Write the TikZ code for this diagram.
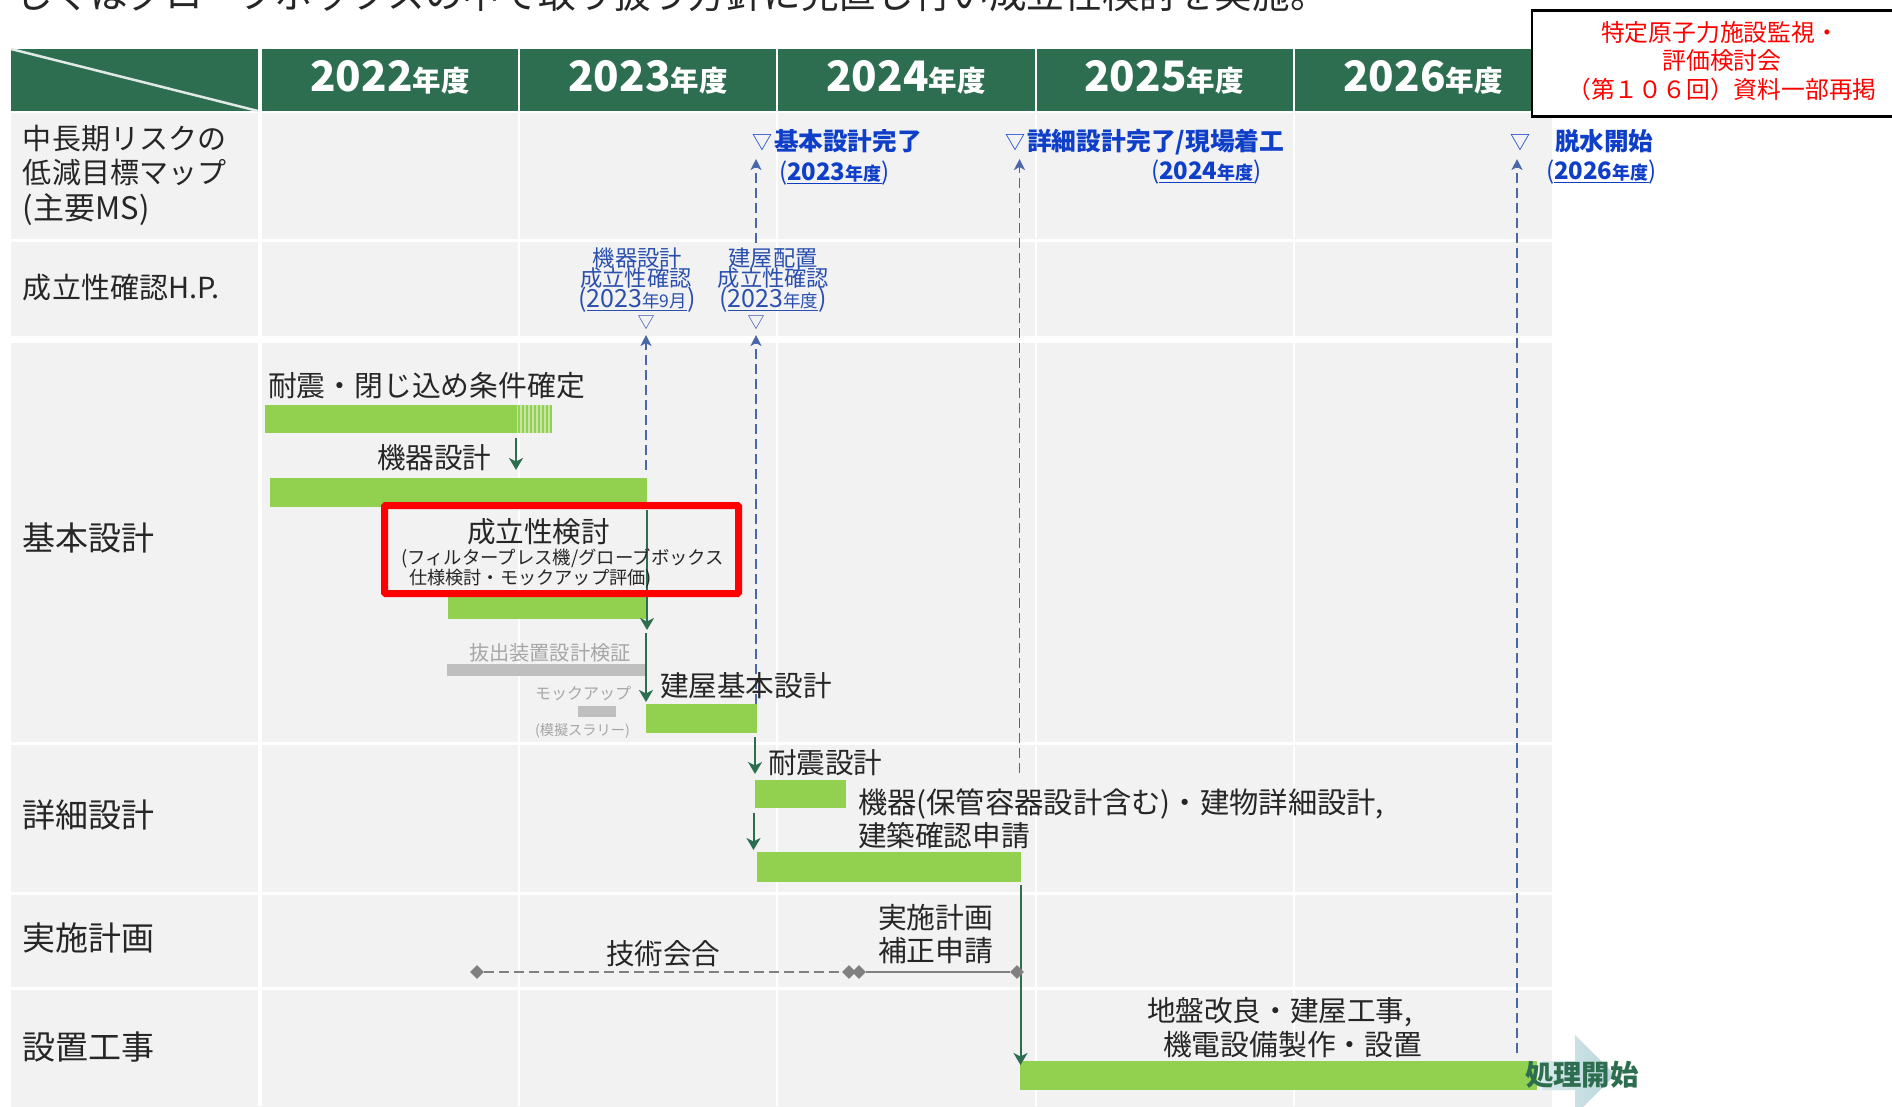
\documentclass[tikz,border=0pt]{standalone}
\usepackage{fontspec}
\setmainfont{Noto Sans CJK JP}
\usetikzlibrary{arrows.meta,shapes.geometric}
\definecolor{hdr}{HTML}{2E6E50}
\definecolor{cellbg}{HTML}{F2F2F2}
\definecolor{barg}{HTML}{92D050}
\definecolor{ink}{HTML}{262626}
\definecolor{msblue}{HTML}{0F3FC8}
\definecolor{hpblue}{HTML}{2A4FAE}
\definecolor{dashblue}{HTML}{4A68A8}
\definecolor{soft}{HTML}{A6A6A6}
\definecolor{barsoft}{HTML}{BFBFBF}
\definecolor{meet}{HTML}{808080}
\definecolor{paleL}{HTML}{D8E9EA}
\definecolor{paleR}{HTML}{B9D6DC}
\tikzset{
  arrowgreen/.style={draw=hdr,line width=2pt,-{Stealth[length=12pt,width=14pt,inset=3.5pt]}},
  dashup/.style={draw=dashblue,line width=1.8pt,dash pattern=on 10pt off 5pt,-{Stealth[length=11pt,width=11pt,inset=3pt]}},
  meetdia/.style={fill=meet,draw=none,inner sep=0pt,minimum size=14pt,shape=diamond},
}
% a rectangle node given by its corners
\newcommand\barN[6]{\pgfmathsetmacro\bcx{(#2+#4)/2}\pgfmathsetmacro\bcy{(#3+#5)/2}%
  \pgfmathsetmacro\bw{#4-#2}\pgfmathsetmacro\bh{#5-#3}%
  \node[fill=#6,draw=none,inner sep=0pt,outer sep=0pt,minimum width=\bw pt,minimum height=\bh pt] (#1) at (\bcx,\bcy) {};}
% one line of text: name, anchor, x, y of the glyph middle, size, colour, text
\newcommand\lbl[7]{\pgfmathsetmacro\by{#4+0.39*#5}%
  \node[anchor=#2,inner sep=0pt,outer sep=0pt,text=#6,font=\fontsize{#5}{#5}\selectfont] (#1) at (#3,\by) {#7};}
\newcommand\sz[1]{\fontsize{#1}{#1}\selectfont}
\begin{document}
\begin{tikzpicture}[x=1pt,y=-1pt]
\useasboundingbox (0,0) rectangle (1892,1106);
\clip (0,0) rectangle (1892,1106);
\fill[white] (0,0) rectangle (1892,1106);
% cut-off sentence at the top
\lbl{topline}{base west}{15}{-6}{37.6}{ink}{しくはグローブボックスの中で取り扱う方針に見直し行い成立性検討を実施。}
% header
\barN{hcorner}{11}{49}{258}{111}{hdr}
\barN{h22cell}{262}{49}{518}{111}{hdr}
\barN{h23cell}{520}{49}{776}{111}{hdr}
\barN{h24cell}{778}{49}{1035}{111}{hdr}
\barN{h25cell}{1037}{49}{1293}{111}{hdr}
\barN{h26cell}{1295}{49}{1540}{111}{hdr}
\draw[draw=white!85!hdr,line width=2.5pt] (hcorner.north west) -- (hcorner.south east);
\foreach \yr/\cx in {2022/390,2023/648,2024/906,2025/1164,2026/1423}{
  \lbl{h\yr}{base}{\cx}{75.5}{42}{white}{\bfseries \yr{\sz{28.5}年度}}
}
% grey table body
\barN{tablebody}{11}{113}{1552}{1110}{cellbg}
\foreach \gx/\gw in {260/4,519/2.5,777/2.5,1036/2.5,1294/2.5}{
  \draw[draw=white,line width=\gw pt] (\gx,113) -- (\gx,1106);
}
\foreach \gy/\gw in {240.5/3.5,339.5/7,743/3,893/3,988/3}{
  \draw[draw=white,line width=\gw pt] (11,\gy) -- (1552,\gy);
}
% row titles
\lbl{r1a}{base west}{23}{138}{29}{ink}{中長期リスクの}
\lbl{r1b}{base west}{23}{172}{29}{ink}{低減目標マップ}
\lbl{r1c}{base west}{23}{207.5}{31}{ink}{(主要MS)}
\lbl{r2}{base west}{23}{287}{29}{ink}{成立性確認H.P.}
\lbl{r3}{base west}{23}{537.5}{33}{ink}{基本設計}
\lbl{r4}{base west}{23}{814.5}{33}{ink}{詳細設計}
\lbl{r5}{base west}{23}{938}{33}{ink}{実施計画}
\lbl{r6}{base west}{23}{1046.5}{33}{ink}{設置工事}
% bars
\barN{b1stripe}{517}{405}{552}{433}{barg!45!cellbg}
\foreach \sx in {519,523,...,551}{\fill[barg] (\sx-1,405) rectangle (\sx+1,433);}
\barN{b1}{264.5}{405}{517}{433}{barg}
\barN{b2}{270}{478}{646.5}{507}{barg}
\barN{b3}{448}{590}{646}{619}{barg}
\barN{bg1}{447}{664}{645}{676}{barsoft}
\barN{bg2}{578}{706}{615.5}{717}{barsoft}
\barN{b4}{646}{704}{757}{733}{barg}
\barN{b5}{755}{780}{845.5}{808}{barg}
\barN{b6}{757}{852}{1021}{882}{barg}
% pale arrow behind the last bar
\shade[left color=paleL,right color=paleR] (1542,1061) -- (1575,1061) -- (1575,1035) -- (1615,1075) -- (1575,1115) -- (1575,1090) -- (1542,1090) -- cycle;
\barN{b7}{1020}{1061}{1537}{1090}{barg}
% dashed milestone lines
\coordinate (d1a) at (646,470);   \coordinate (d1b) at (646,335);
\coordinate (d2a) at (756,704);   \coordinate (d2b) at (756,335);
\coordinate (d3a) at (756,243);   \coordinate (d3b) at (756,159);
\coordinate (d4a) at (1019.5,773);\coordinate (d4b) at (1019.5,159);
\coordinate (d5a) at (1517,1053); \coordinate (d5b) at (1517,159);
\foreach \s/\e in {d1a/d1b,d2a/d2b,d3a/d3b,d4a/d4b,d5a/d5b}{\draw[dashup] (\s) -- (\e);}
% green arrows
\coordinate (a1a) at (516,438);    \coordinate (a1b) at (516,470);
\coordinate (a2a) at (647,510);    \coordinate (a2b) at (647,630);
\coordinate (a3a) at (646,633);    \coordinate (a3b) at (646,702);
\coordinate (a4a) at (755,737);    \coordinate (a4b) at (755,774);
\coordinate (a5a) at (753.5,813);  \coordinate (a5b) at (753.5,850);
\coordinate (a6a) at (1020.5,885); \coordinate (a6b) at (1020.5,1065);
\foreach \s/\e in {a1a/a1b,a2a/a2b,a3a/a3b,a4a/a4b,a5a/a5b,a6a/a6b}{\draw[arrowgreen] (\s) -- (\e);}
% milestones
\lbl{m1t}{base west}{752}{142}{20}{msblue}{▽}
\lbl{m1}{base west}{774}{141}{24.6}{msblue}{\bfseries 基本設計完了}
\lbl{m1y}{base west}{779}{171}{24}{msblue}{(\underline{\bfseries 2023{\sz{18}年度}})}
\lbl{m2t}{base west}{1005}{142}{20}{msblue}{▽}
\lbl{m2}{base west}{1027}{141}{24.8}{msblue}{\bfseries 詳細設計完了/現場着工}
\lbl{m2y}{base west}{1151}{170}{24}{msblue}{(\underline{\bfseries 2024{\sz{18}年度}})}
\lbl{m3t}{base west}{1510}{142}{20}{msblue}{▽}
\lbl{m3}{base west}{1555}{141}{24.6}{msblue}{\bfseries 脱水開始}
\lbl{m3y}{base west}{1546}{170}{24}{msblue}{(\underline{\bfseries 2026{\sz{18}年度}})}
% hold points
\lbl{hp1a}{base}{637.5}{258}{22.3}{hpblue}{機器設計}
\lbl{hp1b}{base}{636}{278}{22.3}{hpblue}{成立性確認}
\lbl{hp1c}{base}{637}{298}{25}{hpblue}{(\underline{2023{\sz{17.5}年9月}})}
\lbl{hp1t}{base}{646}{322}{17}{hpblue}{▽}
\lbl{hp2a}{base}{773}{258}{22.3}{hpblue}{建屋配置}
\lbl{hp2b}{base}{773.5}{278}{22.3}{hpblue}{成立性確認}
\lbl{hp2c}{base}{773}{298}{25}{hpblue}{(\underline{2023{\sz{17.5}年度}})}
\lbl{hp2t}{base}{756}{322}{17}{hpblue}{▽}
% bar labels
\lbl{t1}{base west}{268}{385}{28.8}{ink}{耐震・閉じ込め条件確定}
\lbl{t2}{base west}{377}{457}{28.6}{ink}{機器設計}
\lbl{t3}{base west}{467}{531}{28.6}{ink}{成立性検討}
\lbl{t3a}{base west}{401}{557}{18.4}{ink}{(フィルタープレス機/グローブボックス}
\lbl{t3b}{base west}{409}{577}{18.2}{ink}{仕様検討・モックアップ評価)}
\lbl{t4}{base west}{469}{653}{20.2}{soft}{抜出装置設計検証}
\lbl{t5}{base west}{535}{693}{16}{soft}{モックアップ}
\lbl{t6}{base west}{535}{730}{14.2}{soft}{(模擬スラリー)}
\lbl{t7}{base west}{660}{685}{28.6}{ink}{建屋基本設計}
\lbl{t8}{base west}{768}{762}{28.6}{ink}{耐震設計}
\lbl{t9}{base west}{858}{802}{29.3}{ink}{機器(保管容器設計含む)・建物詳細設計,}
\lbl{t10}{base west}{858}{835}{28.6}{ink}{建築確認申請}
\lbl{t11}{base west}{878}{917}{28.8}{ink}{実施計画}
\lbl{t12}{base west}{878}{950}{28.8}{ink}{補正申請}
\lbl{t13}{base west}{606}{953}{28.6}{ink}{技術会合}
\lbl{t14}{base west}{1147}{1010}{28.6}{ink}{地盤改良・建屋工事,}
\lbl{t15}{base west}{1163}{1044}{28.8}{ink}{機電設備製作・設置}
\lbl{t16}{base west}{1525}{1074}{28.4}{hdr}{\bfseries 処理開始}
% meeting line
\node[meetdia] (k1) at (477,972) {};
\node[meetdia] (k2) at (849,972) {};
\node[meetdia] (k3) at (859,972) {};
\node[meetdia] (k4) at (1017,972) {};
\draw[draw=meet,line width=2.5pt,dash pattern=on 10pt off 5pt] (k1) -- (k2);
\draw[draw=meet,line width=2.5pt] (k3) -- (k4);
% red highlight
\node[draw=red,line width=7pt,rounded corners=1pt,inner sep=0pt,outer sep=0pt,minimum width=354pt,minimum height=88pt] (hilite) at (561.5,549.5) {};
% source box
\node[draw=black,line width=2.2pt,fill=white,inner sep=0pt,outer sep=0pt,minimum width=370pt,minimum height=106pt] (srcbox) at (1717,63.5) {};
\lbl{s1}{base}{1720}{32}{23.8}{red}{特定原子力施設監視・}
\lbl{s2}{base}{1722}{60}{23.8}{red}{評価検討会}
\lbl{s3}{base}{1722}{89}{23.8}{red}{（第１０６回）資料一部再掲}
\end{tikzpicture}
\end{document}
